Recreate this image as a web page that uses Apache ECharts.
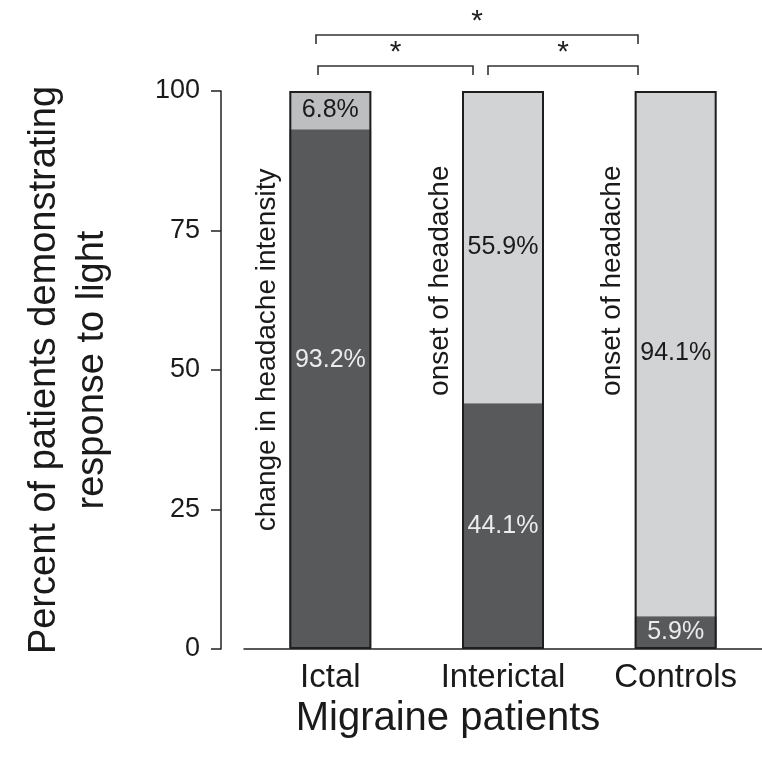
<!DOCTYPE html>
<html><head><meta charset="utf-8">
<script src="https://cdn.jsdelivr.net/npm/echarts@6/dist/echarts.min.js"></script>
<style>html,body{margin:0;padding:0;background:#fff}#c{width:762px;height:764px}</style>
</head><body><div id="c"></div>
<script>
var categories = ['Ictal', 'Interictal', 'Controls'];
var darkValues = [93.2, 44.1, 5.9];
var lightValues = [6.8, 55.9, 94.1];
var yTicks = [0, 25, 50, 75, 100];
var sideNotes = ['change in headache intensity', 'onset of headache', 'onset of headache'];
var sideNoteY = [53.6, 66, 66];

var FONT = 'Liberation Sans, Arial, Helvetica, sans-serif';
var chart = echarts.init(document.getElementById('c'));
var BAR_W = 82;

var option = {
  animation: false,
  grid: { left: 244, right: 0, top: 91, bottom: 115, outerBoundsMode: 'none', containLabel: false },
  xAxis: {
    type: 'category', data: categories,
    axisLine: { show: true, lineStyle: { color: '#222', width: 1.5 } },
    axisTick: { show: false },
    axisLabel: { color: '#1a1a1a', fontSize: 33, fontFamily: FONT, margin: 12 },
    name: 'Migraine patients', nameLocation: 'middle', nameGap: 48,
    nameTextStyle: { color: '#1a1a1a', fontSize: 40, fontFamily: FONT, padding: [0, 110, 0, 0] }
  },
  yAxis: {
    type: 'value', min: 0, max: 100, interval: 25, offset: 23,
    splitLine: { show: false },
    axisLine: { show: true, lineStyle: { color: '#222', width: 1.5 } },
    axisTick: { show: true, length: 10, lineStyle: { color: '#222', width: 1.5 } },
    axisLabel: { color: '#1a1a1a', fontSize: 27, fontFamily: FONT, margin: 21,
      formatter: function (v) { return yTicks.indexOf(v) >= 0 ? String(v) : ''; } },
    name: 'Percent of patients demonstrating\nresponse to light', nameLocation: 'middle', nameGap: 104,
    nameRotate: 90,
    nameTextStyle: { color: '#1a1a1a', fontSize: 38, fontFamily: FONT, lineHeight: 48 }
  },
  series: [
    {
      type: 'bar', stack: 'a', barWidth: BAR_W,
      data: darkValues.map(function (v, i) {
        return { value: v, label: { offset: i === 0 ? [0, -29] : [0, 0] } };
      }),
      itemStyle: { color: '#58595b', borderColor: '#8a8b8d', borderWidth: 1 },
      label: { show: true, position: 'inside', color: '#ececec', fontSize: 25, fontFamily: FONT,
        formatter: function (p) { return p.value.toFixed(1) + '%'; } }
    },
    {
      type: 'bar', stack: 'a', barWidth: BAR_W,
      data: lightValues.map(function (v, i) {
        return { value: v, itemStyle: { color: i === 0 ? '#bdbec0' : '#d1d3d4' } };
      }),
      label: { show: true, position: 'inside', color: '#1a1a1a', fontSize: 25, fontFamily: FONT,
        formatter: function (p) { return p.value.toFixed(1) + '%'; } }
    },
    {
      type: 'bar', barWidth: BAR_W, barGap: '-100%', silent: true, z: 5,
      data: darkValues.map(function (v, i) { return v + lightValues[i]; }),
      itemStyle: { color: 'rgba(0,0,0,0)', borderColor: '#1e1e1e', borderWidth: 2 }
    }
  ]
};
chart.setOption(option);

var g = [];
categories.forEach(function (c, i) {
  var p = chart.convertToPixel({ seriesIndex: 0 }, [i, sideNoteY[i]]);
  g.push({ type: 'text', x: p[0] - BAR_W / 2 - 22, y: p[1], rotation: Math.PI / 2,
    style: { text: sideNotes[i], fill: '#1a1a1a', font: '28px ' + FONT, textAlign: 'center', textVerticalAlign: 'middle' } });
});
function bracket(x1, x2, y, star) {
  g.push({ type: 'polyline', shape: { points: [[x1, y + 9], [x1, y], [x2, y], [x2, y + 9]] },
    style: { stroke: '#333', lineWidth: 1.6, fill: null } });
  g.push({ type: 'text', x: (x1 + x2) / 2, y: y - 13,
    style: { text: star, fill: '#222', font: '30px ' + FONT, textAlign: 'center', textVerticalAlign: 'middle' } });
}
bracket(316, 638, 35, '*');
bracket(318, 473, 66, '*');
bracket(488, 638, 66, '*');
chart.setOption({ graphic: g });
</script></body></html>
